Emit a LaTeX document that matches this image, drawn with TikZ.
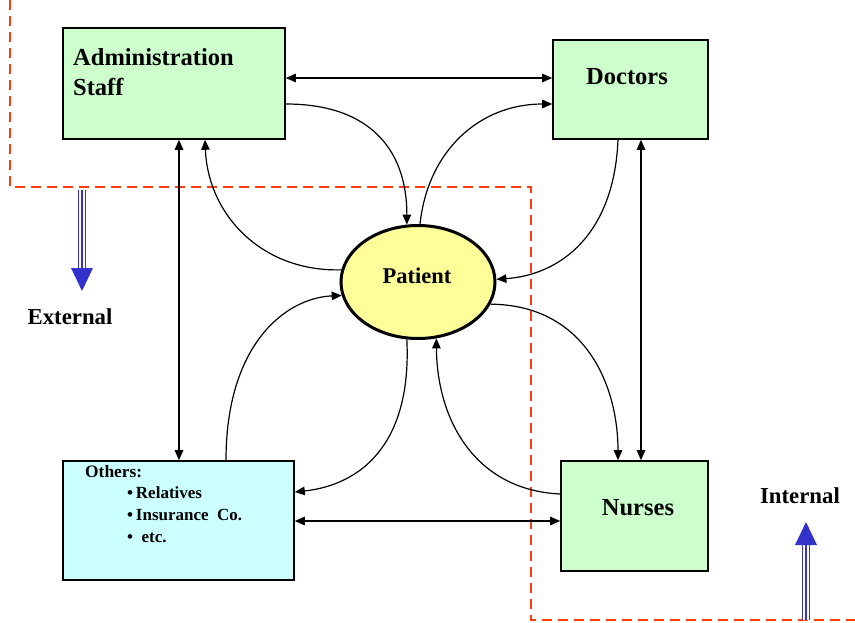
\documentclass[tikz,border=0pt]{standalone}
\usepackage{fontspec}
\setmainfont{Liberation Serif}
\usetikzlibrary{arrows.meta,shapes.geometric,calc}
\definecolor{boxgreen}{RGB}{204,255,204}
\definecolor{boxcyan}{RGB}{204,255,255}
\definecolor{patyellow}{RGB}{255,255,153}
\definecolor{borderred}{RGB}{255,60,10}
\definecolor{flowblue}{RGB}{51,51,204}
\begin{document}
\begin{tikzpicture}[x=1pt,y=-1pt,
  party/.style={draw=black,line width=1.6pt,rectangle,inner sep=0pt},
  link/.style={line width=1.2pt,-{Triangle[length=10pt,width=8.5pt]}},
  duplex/.style={line width=1.2pt,{Triangle[length=10pt,width=8.5pt]}-{Triangle[length=10pt,width=8.5pt]}},
  title/.style={font=\bfseries\fontsize{24.5}{28}\selectfont,inner sep=0pt},
  sidelabel/.style={font=\bfseries\fontsize{22.8}{26}\selectfont,inner sep=0pt},
  boundary/.style={draw=borderred,line width=2.6pt,dash pattern=on 10pt off 6pt},
]
\useasboundingbox (0,0) rectangle (855,623);

% organisational boundary between inside and outside
\draw[boundary] (10,0) -- (10,187) -- (531,187) -- (531,620) -- (855,620);

% parties
\node[party,fill=boxgreen,minimum width=222pt,minimum height=111pt] (adm) at (174,83.5) {};
\node[party,fill=boxgreen,minimum width=155pt,minimum height=99pt] (doc) at (630.5,89.5) {};
\node[party,fill=boxgreen,minimum width=147pt,minimum height=110pt] (nur) at (634.5,516) {};
\node[party,fill=boxcyan,minimum width=231pt,minimum height=119pt] (oth) at (178.5,520.5) {};
\node[ellipse,draw=black,line width=3pt,fill=patyellow,minimum width=154pt,minimum height=113pt,inner sep=0pt] (pat) at (418,282) {};

% box texts
\node[title,anchor=west,align=left] (admtxt) at (73,72) {Administration\\[2pt]Staff};
\node[title] (doctxt) at (627,77) {Doctors};
\node[title] (nurtxt) at (638,508) {Nurses};
\node[font=\bfseries\fontsize{22.5}{26}\selectfont,inner sep=0pt] (pattxt) at (417,276) {Patient};
\node[font=\bfseries\fontsize{17.4}{21}\selectfont,anchor=west,inner sep=0pt] (othtxt) at (85,472) {Others:};
\node[font=\bfseries\fontsize{17}{20}\selectfont,anchor=west,inner sep=0pt,align=left] (othlist) at (127,515)
  {•\,Relatives\\[2pt]•\,Insurance\ \ Co.\\[2pt]•\ \ etc.};

% direct links between the parties
\draw[duplex] (adm.east |- 0,78) -- (doc.west |- 0,78);
\draw[duplex] (adm.south -| 179,0) -- (oth.north -| 179,0);
\draw[duplex] (doc.south -| 641,0) -- (nur.north -| 641,0);
\draw[duplex] (oth.east |- 0,521) -- (nur.west |- 0,521);

% flows to and from the patient
\draw[link] (adm.east |- 0,104) .. controls (370,104) and (407,150) .. (pat.101);
\draw[link] (pat.171) .. controls (262,272) and (208,215) .. (adm.south -| 205,0);
\draw[link] (pat.88) .. controls (428,150) and (480,104) .. (doc.west |- 0,104);
\draw[link] (doc.south -| 618,0) .. controls (614,235) and (560,275) .. (pat.2);
\draw[link] (pat.-17) .. controls (585,305) and (618,385) .. (nur.north -| 618,0);
\draw[link] (nur.west |- 0,494) .. controls (475,490) and (437,420) .. (pat.-72);
\draw[link] (pat.-101) .. controls (412,445) and (360,485) .. (oth.east |- 0,492);
\draw[link] (oth.north -| 226,0) .. controls (226,345) and (285,298) .. (pat.190);

% outward and inward markers
\coordinate (extfrom) at (82,190);
\coordinate (extto) at (82,291);
\coordinate (intfrom) at (806,620);
\coordinate (intto) at (806,522);
\foreach \a/\b/\s in {extfrom/extto/-1,intfrom/intto/1}{
  \draw[flowblue,line width=8pt] (\a) -- ($(\b)+(0,\s*22)$);
  \draw[white,line width=5.5pt] (\a) -- ($(\b)+(0,\s*22)$);
  \draw[flowblue,line width=1.6pt] (\a) -- ($(\b)+(0,\s*22)$);
  \fill[flowblue] (\b) -- ($(\b)+(-11,\s*23)$) -- ($(\b)+(11,\s*23)$) -- cycle;
}
\node[sidelabel] (extlbl) at (70,317) {External};
\node[sidelabel] (intlbl) at (800,496) {Internal};
\end{tikzpicture}
\end{document}
